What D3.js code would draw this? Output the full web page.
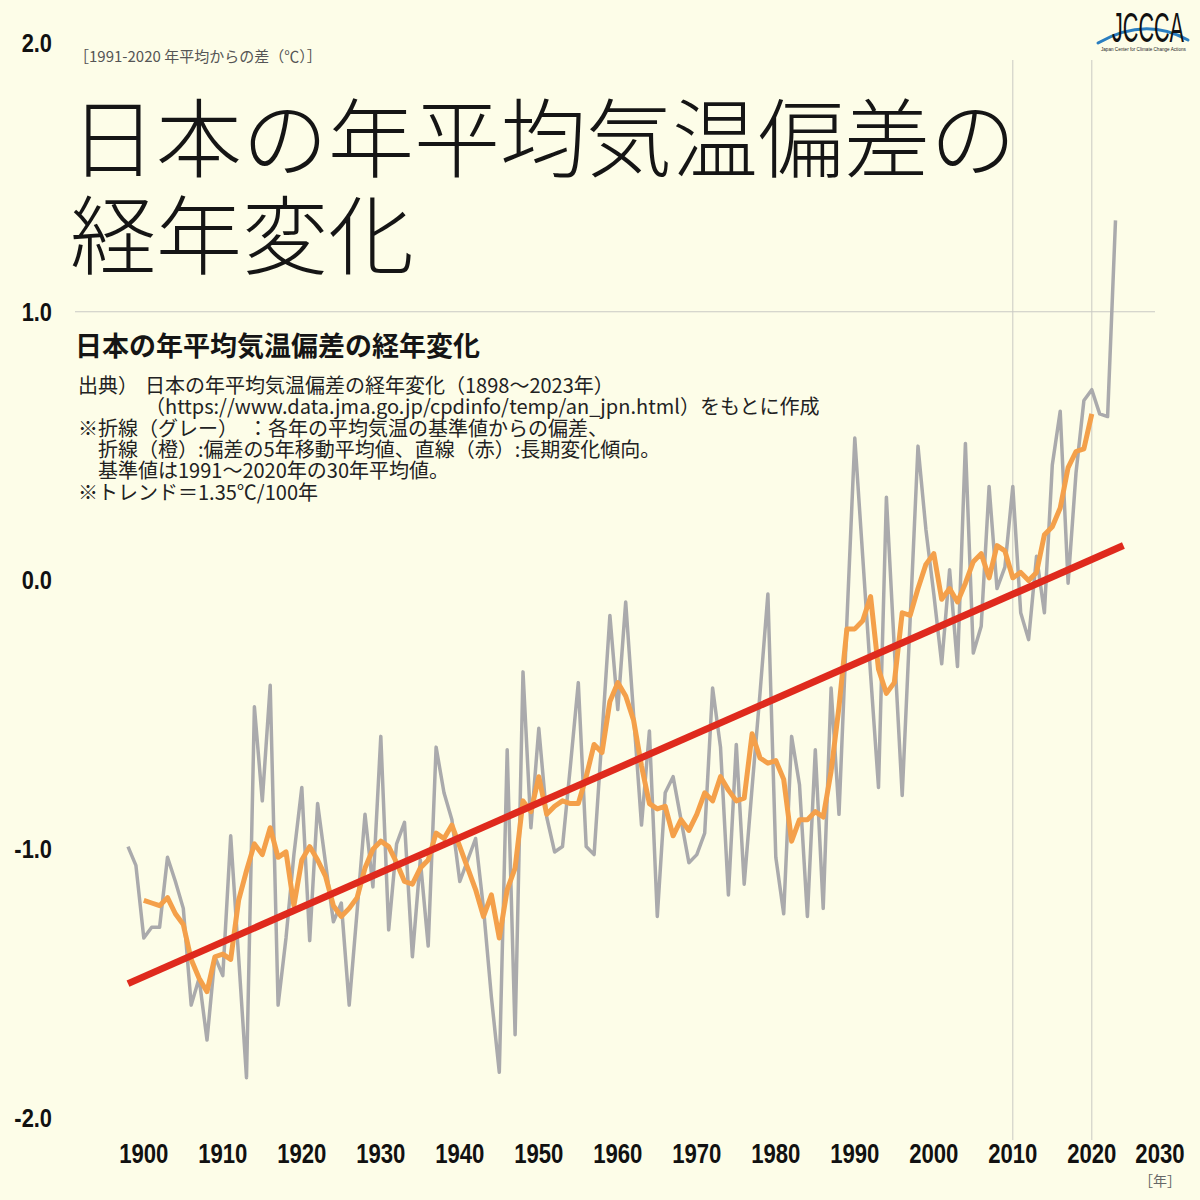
<!DOCTYPE html>
<html lang="ja">
<head>
  <meta charset="UTF-8">
  <title>日本の年平均気温偏差の経年変化</title>
  <script src="https://d3js.org/d3.v7.min.js"></script>
  <style>
    html, body {
      margin: 0;
      padding: 0;
      background: #fdfde8;
    }
    svg {
      display: block;
    }
  </style>
</head>
<body>
<svg id="chart" width="1200" height="1200"></svg>

<script>
  // Annual anomaly from the 1991-2020 mean (gray), 1898-2023
  const firstYear = 1898;
  const annualAnomaly = [
    -0.99, -1.06, -1.33, -1.29, -1.29, -1.03, -1.12, -1.22, -1.58, -1.48,  // 1898-1907
    -1.71, -1.40, -1.47, -0.95, -1.40, -1.85, -0.47, -0.82, -0.39, -1.58,  // 1908-1917
    -1.33, -1.02, -0.77, -1.34, -0.83, -1.05, -1.27, -1.20, -1.58, -1.23,  // 1918-1927
    -0.87, -1.14, -0.58, -1.30, -0.98, -0.90, -1.40, -1.04, -1.36, -0.62,  // 1928-1937
    -0.79, -0.89, -1.12, -1.04, -0.96, -1.22, -1.55, -1.83, -0.63, -1.69,  // 1938-1947
    -0.34, -0.92, -0.55, -0.88, -1.01, -0.99, -0.69, -0.38, -0.99, -1.02,  // 1948-1957
    -0.58, -0.13, -0.48, -0.08, -0.50, -0.91, -0.56, -1.25, -0.79, -0.73,  // 1958-1967
    -0.89, -1.05, -1.02, -0.94, -0.40, -0.62, -1.17, -0.61, -1.13, -0.77,  // 1968-1977
    -0.42, -0.05, -1.03, -1.24, -0.58, -0.76, -1.25, -0.63, -1.22, -0.40,  // 1978-1987
    -0.87, -0.15,  0.53,  0.09, -0.35, -0.77,  0.31, -0.25, -0.80, -0.15,  // 1988-1997
     0.50,  0.19, -0.05, -0.31,  0.04, -0.32,  0.51, -0.27, -0.17,  0.35,  // 1998-2007
    -0.03,  0.05,  0.35, -0.12, -0.22,  0.09, -0.12,  0.43,  0.63, -0.01,  // 2008-2017
     0.40,  0.67,  0.71,  0.62,  0.61,  1.34                                // 2018-2023
  ];

  // 5-year moving average (orange), 1900-2020
  const firstAvgYear = 1900;
  const movingAverage = [
    -1.19, -1.20, -1.21, -1.18, -1.24, -1.28, -1.41, -1.48, -1.53, -1.40,  // 1900-1909
    -1.39, -1.41, -1.19, -1.08, -0.98, -1.02, -0.92, -1.03, -1.01, -1.21,  // 1910-1919
    -1.04, -0.99, -1.04, -1.10, -1.21, -1.25, -1.22, -1.18, -1.07, -1.00,  // 1920-1929
    -0.97, -0.99, -1.05, -1.12, -1.13, -1.07, -1.04, -0.94, -0.96, -0.91,  // 1930-1939
    -0.99, -1.07, -1.15, -1.25, -1.17, -1.33, -1.15, -1.07, -0.82, -0.86,  // 1940-1949
    -0.73, -0.87, -0.84, -0.82, -0.83, -0.83, -0.73, -0.61, -0.64, -0.45,  // 1950-1959
    -0.38, -0.43, -0.52, -0.69, -0.83, -0.85, -0.84, -0.95, -0.89, -0.93,  // 1960-1969
    -0.87, -0.79, -0.82, -0.73, -0.78, -0.82, -0.81, -0.57, -0.66, -0.68,  // 1970-1979
    -0.67, -0.74, -0.97, -0.89, -0.89, -0.86, -0.88, -0.71, -0.47, -0.18,  // 1980-1989
    -0.18, -0.15, -0.06, -0.33, -0.42, -0.38, -0.12, -0.13, -0.03,  0.06,  // 1990-1999
     0.10, -0.07, -0.03, -0.08, -0.01,  0.07,  0.10,  0.01,  0.13,  0.11,  // 2000-2009
     0.01,  0.03,  0.00,  0.03,  0.17,  0.20,  0.27,  0.42,  0.48,  0.49,  // 2010-2019
     0.62                                                                   // 2020
  ];

  // Long-term trend (red), endpoints of the straight line
  const trendYears = [1898, 2024];
  const trendValues = [-1.50, 0.13];

  const yTicks = [-2, -1, 0, 1, 2];
  const xTicks = d3.range(1900, 2031, 10);
  const gridYears = [2010, 2020];

  const titleLines = ["日本の年平均気温偏差の", "経年変化"];
  const subTitle = "日本の年平均気温偏差の経年変化";
  const unitLabel = "［1991-2020 年平均からの差（℃）］";
  const yearUnit = "［年］";
  const notes = [
    { indent: 0, text: "出典）" },
    { indent: 1, text: "日本の年平均気温偏差の経年変化（1898～2023年）", sameLine: true },
    { indent: 1, text: "（https://www.data.jma.go.jp/cpdinfo/temp/an_jpn.html）をもとに作成" },
    { indent: 0, text: "※折線（グレー）　：各年の平均気温の基準値からの偏差、" },
    { indent: 2, text: "折線（橙）:偏差の5年移動平均値、直線（赤）:長期変化傾向。" },
    { indent: 2, text: "基準値は1991～2020年の30年平均値。" },
    { indent: 0, text: "※トレンド＝1.35℃/100年" }
  ];

  const jpFont = "'Noto Sans CJK JP', 'Noto Sans', sans-serif";
  const numFont = "'Liberation Sans Narrow', 'Liberation Sans', Arial, sans-serif";

  const svg = d3.select("#chart");

  svg.append("rect")
    .attr("width", 1200)
    .attr("height", 1200)
    .attr("fill", "#fdfde8");

  // scales
  const x = d3.scaleLinear()
    .domain([1898, 2023])
    .range([128, 1115.5]);

  const y = d3.scaleLinear()
    .domain([-2, 2])
    .range([1118, 43]);

  const annual = annualAnomaly.map((v, i) => ({ year: firstYear + i, value: v }));
  const average = movingAverage.map((v, i) => ({ year: firstAvgYear + i, value: v }));
  const trend = trendYears.map((yr, i) => ({ year: yr, value: trendValues[i] }));

  // squeeze a label horizontally (the original uses a condensed face)
  function condense(sel, k) {
    sel.each(function() {
      const w = this.getComputedTextLength();
      d3.select(this)
        .attr("textLength", w * k)
        .attr("lengthAdjust", "spacingAndGlyphs");
    });
  }

  // grid lines
  svg.append("line")
    .attr("x1", 75)
    .attr("x2", 1155)
    .attr("y1", y(1))
    .attr("y2", y(1))
    .attr("stroke", "#c9c9c4")
    .attr("stroke-width", 1);

  svg.selectAll(".vgrid")
    .data(gridYears)
    .enter()
    .append("line")
    .attr("class", "vgrid")
    .attr("x1", d => x(d))
    .attr("x2", d => x(d))
    .attr("y1", 60)
    .attr("y2", 1140)
    .attr("stroke", "#c9c9c4")
    .attr("stroke-width", 1);

  // y axis labels
  const yAxis = d3.axisLeft(y)
    .tickValues(yTicks)
    .tickSize(0)
    .tickPadding(0)
    .tickFormat(d => d.toFixed(1));

  const gy = svg.append("g")
    .attr("transform", "translate(52,0)")
    .call(yAxis);
  gy.select(".domain").remove();
  gy.selectAll("text")
    .attr("font-family", numFont)
    .attr("font-weight", "bold")
    .attr("font-size", 26)
    .attr("fill", "#111")
    .call(condense, 0.84);

  // x axis labels
  const xAxis = d3.axisBottom(x)
    .tickValues(xTicks)
    .tickSize(0)
    .tickPadding(0)
    .tickFormat(d3.format("d"));

  const gx = svg.append("g")
    .attr("transform", "translate(0,1144)")
    .call(xAxis);
  gx.select(".domain").remove();
  gx.selectAll(".tick")
    .attr("transform", d => `translate(${Math.min(x(d), 1160)},0)`);
  gx.selectAll("text")
    .attr("font-family", numFont)
    .attr("font-weight", "bold")
    .attr("font-size", 27)
    .attr("fill", "#111")
    .call(condense, 0.82);

  svg.append("text")
    .attr("x", 1160)
    .attr("y", 1186)
    .attr("text-anchor", "middle")
    .attr("font-family", jpFont)
    .attr("font-size", 14)
    .attr("fill", "#666")
    .text(yearUnit);

  svg.append("text")
    .attr("x", 74)
    .attr("y", 62)
    .attr("font-family", jpFont)
    .attr("font-size", 15)
    .attr("fill", "#555")
    .text(unitLabel);

  // titles
  svg.selectAll(".title")
    .data(titleLines)
    .enter()
    .append("text")
    .attr("class", "title")
    .attr("x", 70)
    .attr("y", (d, i) => 171 + i * 97)
    .attr("font-family", jpFont)
    .attr("font-weight", 300)
    .attr("font-size", 86)
    .attr("fill", "#151515")
    .text(d => d);

  svg.append("text")
    .attr("x", 75)
    .attr("y", 356)
    .attr("font-family", jpFont)
    .attr("font-weight", "bold")
    .attr("font-size", 27)
    .attr("fill", "#151515")
    .text(subTitle);

  // notes
  let row = -1;
  const noteX = [78, 145, 98];
  notes.forEach(n => {
    if (!n.sameLine) row++;
    svg.append("text")
      .attr("x", noteX[n.indent])
      .attr("y", 393 + row * 21.3)
      .attr("font-family", jpFont)
      .attr("font-size", 20)
      .attr("fill", "#222")
      .text(n.text);
  });

  // lines
  const line = d3.line()
    .x(d => x(d.year))
    .y(d => y(d.value));

  svg.append("path")
    .datum(annual)
    .attr("d", line)
    .attr("fill", "none")
    .attr("stroke", "#aaaaac")
    .attr("stroke-width", 3.5)
    .attr("stroke-linejoin", "round");

  svg.append("path")
    .datum(average)
    .attr("d", line)
    .attr("fill", "none")
    .attr("stroke", "#f4a04a")
    .attr("stroke-width", 5)
    .attr("stroke-linejoin", "round");

  svg.append("path")
    .datum(trend)
    .attr("d", line)
    .attr("fill", "none")
    .attr("stroke", "#df2a1d")
    .attr("stroke-width", 7);

  // JCCCA logo (squeezed with a transform so the box stays on the page)
  const logo = svg.append("g");
  logo.append("path")
    .attr("d", "M1098,43 Q1145,16 1188,40")
    .attr("fill", "none")
    .attr("stroke", "#2a7ec0")
    .attr("stroke-width", 3)
    .attr("stroke-linecap", "round");
  logo.append("text")
    .attr("transform", "translate(1112,42) scale(0.64,1)")
    .attr("font-family", numFont)
    .attr("font-size", 42)
    .attr("fill", "#111")
    .text("JCCCA")
    .each(function() {
      const w = this.getComputedTextLength();
      d3.select(this).attr("transform", `translate(1112,42) scale(${72 / w},1)`);
    });
  logo.append("text")
    .attr("transform", "translate(1101,51)")
    .attr("font-family", numFont)
    .attr("font-size", 6)
    .attr("fill", "#222")
    .text("Japan Center for Climate Change Actions")
    .each(function() {
      const w = this.getComputedTextLength();
      d3.select(this).attr("transform", `translate(1101,51) scale(${85 / w},1)`);
    });
</script>
</body>
</html>
